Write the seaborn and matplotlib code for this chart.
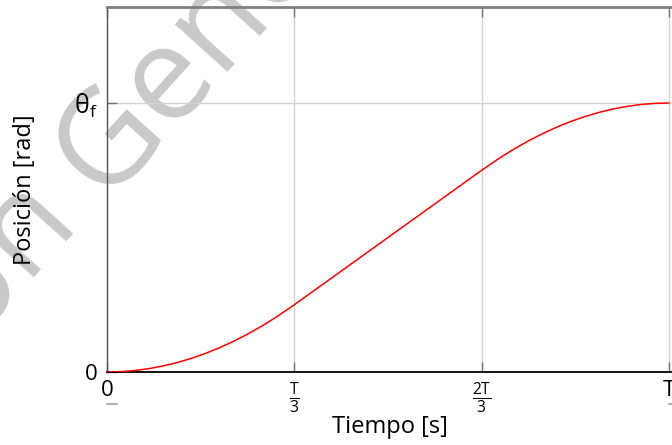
import numpy as np
import pandas as pd
import matplotlib
matplotlib.use("Agg")
import matplotlib.pyplot as plt
import matplotlib.transforms as mtransforms
from matplotlib.lines import Line2D
import seaborn as sns

# Data (time in units of T, position in units of theta_f)
t_vals = [0.0, 0.025, 0.05, 0.075, 0.1, 0.125, 0.15, 0.175, 0.2, 0.225, 0.25, 0.275, 0.3, 0.3333,
          0.4, 0.45, 0.5, 0.55, 0.6, 0.6667,
          0.7, 0.725, 0.75, 0.775, 0.8, 0.825, 0.85, 0.875, 0.9, 0.925, 0.95, 0.975, 1.0]
pos_vals = [0.0, 0.0014, 0.0056, 0.0127, 0.0225, 0.0352, 0.0506, 0.0689, 0.09, 0.1139, 0.1406, 0.1702, 0.2025, 0.25,
            0.35, 0.425, 0.5, 0.575, 0.65, 0.75,
            0.7975, 0.8298, 0.8594, 0.8861, 0.91, 0.9311, 0.9494, 0.9648, 0.9775, 0.9873, 0.9944, 0.9986, 1.0]
x_ticks = [0.0, 1/3, 2/3, 1.0]
x_ticklabels = ["0", r"$\frac{\mathrm{T}}{3}$", r"$\frac{\mathrm{2T}}{3}$", "T"]
y_ticks = [0.0, 1.0]
y_ticklabels = ["0", r"θ$_\mathrm{f}$"]

sns.set_style("white")
plt.rcParams['font.family'] = ['Open Sans', 'DejaVu Sans']
plt.rcParams['mathtext.fontset'] = 'custom'
plt.rcParams['mathtext.rm'] = 'Open Sans'
plt.rcParams['mathtext.it'] = 'Open Sans:italic'
plt.rcParams['mathtext.bf'] = 'Open Sans:bold'
plt.rcParams['text.color'] = 'black'
plt.rcParams['axes.labelcolor'] = 'black'
plt.rcParams['xtick.color'] = 'black'
plt.rcParams['ytick.color'] = 'black'

df = pd.DataFrame({"t": t_vals, "pos": pos_vals})

fig = plt.figure(figsize=(6.72, 4.45), dpi=100)
W, H = 672, 445
ax = fig.add_axes([107 / W, 1 - 372 / H, (672 - 107) / W, (372 - 7) / H])
ax.set_facecolor('none')
ax.set_zorder(2)

# watermark
wm_color = '#c9c9c9'
ang = 48
fs = 95
px, py = 104 / W, 1 - 200 / H
fig.text(px, py, "Generada", rotation=ang, rotation_mode='anchor', ha='left', va='baseline',
         fontsize=fs, color=wm_color, zorder=0)
fig.text(px, py, "Versión ", rotation=ang, rotation_mode='anchor', ha='right', va='baseline',
         fontsize=fs, color=wm_color, zorder=0)

sns.lineplot(data=df, x="t", y="pos", ax=ax, color='#ff0000', linewidth=1.1, zorder=3)

ax.set_xlim(0, (672 - 107) / (669 - 107))
ax.set_ylim(0, (372 - 7) / (372 - 103))
ax.set_xticks(x_ticks)
ax.set_xticklabels(x_ticklabels, fontsize=16)
ax.set_yticks(y_ticks)
ax.set_yticklabels(y_ticklabels, fontsize=16)
ax.get_yticklabels()[1].set_fontsize(18)
ax.tick_params(axis='x', direction='in', length=7, width=1, color='#707070', top=True, bottom=True, pad=6)
ax.tick_params(axis='y', direction='in', length=7, width=1, color='#707070', left=True, pad=7)
ax.grid(True, color='#d3d3d3', linewidth=1.0)
ax.set_axisbelow(True)

ax.spines['left'].set_color('#555555')
ax.spines['left'].set_linewidth(1.0)
ax.spines['top'].set_color('#808080')
ax.spines['top'].set_linewidth(2.0)
ax.spines['bottom'].set_color('#000000')
ax.spines['bottom'].set_linewidth(1.3)
ax.spines['right'].set_visible(False)

# small gray dashes below the end tick labels
trans = mtransforms.blended_transform_factory(ax.transData, ax.transAxes)
dash_y = (372 - 404) / 365
for xv in [x_ticks[0], x_ticks[-1]]:
    ln = Line2D([xv, xv + 10 / 562], [dash_y, dash_y], transform=trans, color='#b0b0b0',
                linewidth=1.5, clip_on=False)
    ax.add_line(ln)

ax.set_xlabel("Tiempo [s]", fontsize=17)
ax.set_ylabel("Posición [rad]", fontsize=17)
ax.xaxis.set_label_coords(0.5, (372 - 415) / 365)
ax.yaxis.set_label_coords((37 - 107) / 565, 0.5)

fig.savefig("out.png", dpi=100)
